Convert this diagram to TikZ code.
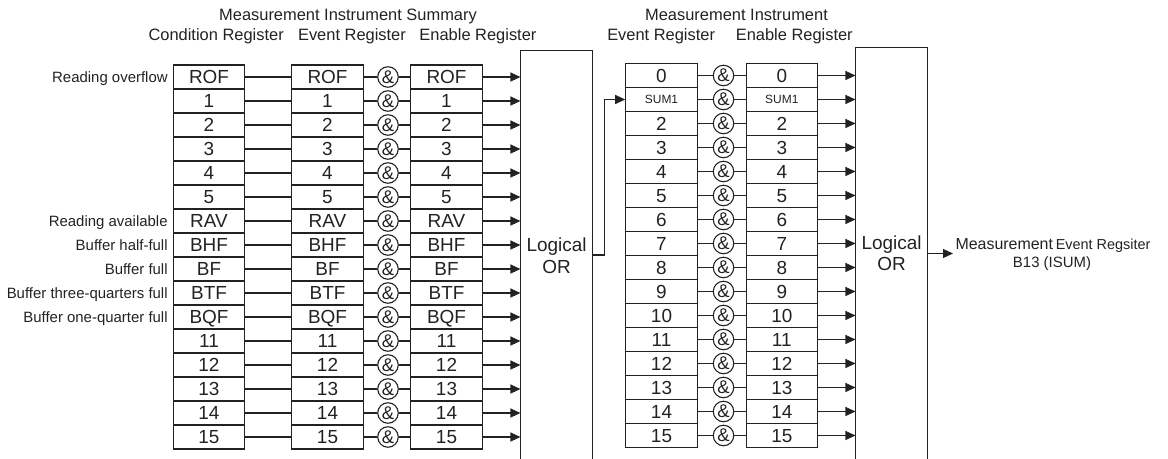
\documentclass[tikz,border=0pt]{standalone}
\usepackage{fontspec}
\setmainfont{Liberation Sans}
\usetikzlibrary{arrows.meta,calc}
\definecolor{ink}{HTML}{222222}
\begin{document}
\begin{tikzpicture}[x=1bp,y=-1bp, line width=1.1bp, color=ink,
 cell/.style={draw, minimum width=71.5bp, minimum height=24bp, inner sep=0pt, text depth=0pt, font=\fontsize{19}{19}\selectfont},
 amp/.style={draw, circle, minimum size=20.5bp, inner sep=0pt, text depth=0pt, font=\fontsize{18.5}{18.5}\selectfont},
 side/.style={anchor=base east, inner sep=0pt, font=\fontsize{15}{15}\selectfont},
 head/.style={inner sep=0pt, font=\fontsize{16.5}{16.5}\selectfont},
 arr/.style={-{Triangle[length=10bp,width=9bp]}},
 ortxt/.style={anchor=base, inner sep=0pt, font=\fontsize{19}{19}\selectfont},
 orbox/.style={minimum width=71bp, inner sep=0pt}]
\useasboundingbox (0,0) rectangle (1168,459);

% headers
\node[head, anchor=base] (h1) at (348,21) {Measurement Instrument Summary};
\node[head, anchor=base west] (h2) at (148,41) {Condition Register};
\node[head, anchor=base west] (h3) at (297.5,41) {Event Register};
\node[head, anchor=base east] (h4) at (537,41) {Enable Register};
\node[head, anchor=base] (h5) at (736.5,21) {Measurement Instrument};
\node[head, anchor=base west] (h6) at (606.7,41) {Event Register};
\node[head, anchor=base east] (h7) at (853.3,41) {Enable Register};

% OR boxes
\node[orbox, minimum height=408bp] (orL) at (556.5,255) {};
\draw (orL.south west) -- (orL.north west) -- (orL.north east) -- (orL.south east);
\node[ortxt] (orLt1) at (556.5,252) {Logical};
\node[ortxt] (orLt2) at (556.5,274) {OR};
\node[orbox, minimum height=411bp] (orR) at (891.5,253.5) {};
\draw (orR.south west) -- (orR.north west) -- (orR.north east) -- (orR.south east);
\node[ortxt] (orRt1) at (891.5,249.5) {Logical};
\node[ortxt] (orRt2) at (891.5,271) {OR};

% left registers
\foreach \t [count=\i from 0] in {ROF,1,2,3,4,5,RAV,BHF,BF,BTF,BQF,11,12,13,14,15} {
  \pgfmathsetmacro\yy{77+24*\i}
  \node[cell] (c\i) at (209,\yy) {\t};
  \node[cell] (e\i) at (327.5,\yy) {\t};
  \node[amp] (a\i) at (388,\yy) {\&};
  \node[cell] (n\i) at (446.5,\yy) {\t};
  \draw (c\i.east) -- (e\i.west);
  \draw (e\i.east) -- (a\i.west);
  \draw (a\i.east) -- (n\i.west);
  \draw[arr] (n\i.east) -- (n\i.east -| orL.west);
}

% side labels
\foreach \r/\lab in {0/Reading overflow,6/Reading available,7/Buffer half-full,8/Buffer full,9/Buffer three-quarters full,10/Buffer one-quarter full} {
  \node[side] (l\r) at ([xshift=-4.5bp,yshift=-5.4bp]c\r.west) {\lab};
}

% right registers
\foreach \t [count=\i from 0] in {0,{\fontsize{12}{12}\selectfont SUM1},2,3,4,5,6,7,8,9,10,11,12,13,14,15} {
  \pgfmathsetmacro\yy{75.5+24*\i}
  \node[cell] (re\i) at (661.5,\yy) {\t};
  \node[amp] (ra\i) at (723.5,\yy) {\&};
  \node[cell] (rn\i) at (781.8,\yy) {\t};
  \draw (re\i.east) -- (ra\i.west);
  \draw (ra\i.east) -- (rn\i.west);
  \draw[arr] (rn\i.east) -- (rn\i.east -| orR.west);
}

% links
\draw[arr] (orL.east) -- ++(11.5,0) |- (re1.west);
\coordinate (out) at (953,253.5);
\draw[arr] (orR.east) -- (out);
\node[anchor=base west, inner sep=0pt] (outl1) at (955,250) {{\fontsize{16}{16}\selectfont Measurement} {\fontsize{14.5}{14.5}\selectfont Event Regsiter}};
\node[anchor=base, inner sep=0pt, font=\fontsize{15}{15}\selectfont] (outl2) at (1052,268) {B13 (ISUM)};
\end{tikzpicture}
\end{document}
